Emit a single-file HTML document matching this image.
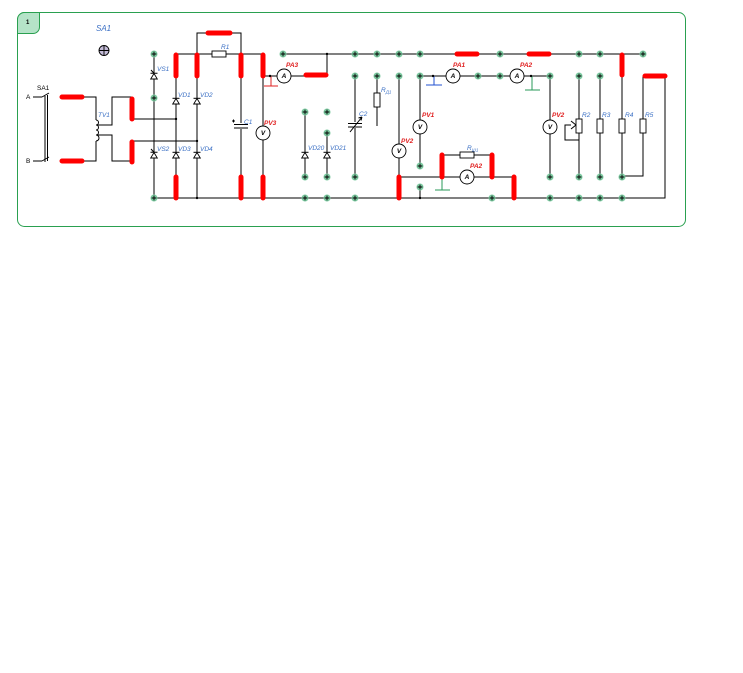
<!DOCTYPE html>
<html><head><meta charset="utf-8"><style>
html,body{margin:0;padding:0;background:#fff;width:743px;height:673px;overflow:hidden}
svg{display:block}
text{font-family:"Liberation Sans",sans-serif;font-style:italic;font-size:6.5px}
.b{fill:#3a6fc4}.r{fill:#e02020;font-weight:bold}.k{fill:#000}
</style></head><body>
<svg width="743" height="673" viewBox="0 0 743 673" xmlns="http://www.w3.org/2000/svg">
<defs>
<symbol id="n" viewBox="-4 -4 8 8" overflow="visible"><circle r="3.5" fill="#7cc9a0"/><path d="M-2.4 0H2.4M0 -2.4V2.4" stroke="#000" stroke-width="0.9"/></symbol>
<symbol id="d" overflow="visible"><polygon points="-3.3,3 3.3,3 0,-2.5" fill="#fff" stroke="#000" stroke-width="0.9"/><path d="M-3.5 -2.7H3.5" stroke="#000" stroke-width="1"/></symbol>
<symbol id="t" overflow="visible"><polygon points="-3.3,3 3.3,3 0,-2.5" fill="#fff" stroke="#000" stroke-width="0.9"/><path d="M-3.5 -2.7H3.5M0 -2.7L-3 -6" stroke="#000" stroke-width="1"/></symbol>
</defs>
<rect x="17.5" y="12.5" width="668" height="214" rx="7" fill="#fff" stroke="#2aa050" stroke-width="1"/>
<path d="M17.5 33.5V19.5a7 7 0 0 1 7-7H39.5V27a6.5 6.5 0 0 1-6.5 6.5Z" fill="#b5e3c8" stroke="#2aa050" stroke-width="1"/>
<text x="26" y="24" class="k" style="font-size:6px;font-style:normal;font-weight:bold">1</text>
<text x="96" y="31" class="b" style="font-size:8px">SA1</text>
<circle cx="104" cy="50.5" r="5" fill="#c4bcd8" stroke="#000" stroke-width="0.9"/><path d="M99 50.5H109M104 45.5V55.5" stroke="#000" stroke-width="0.9"/>

<g stroke="#000" stroke-width="1" fill="none">
<path d="M33 97H42M33 161H42M42 97L49 93M42 161L49 157M45 96V162M47.5 95V161"/>
<path d="M83 97H96V120M96 141V161H83"/>
<path d="M96 120a2.5 2.5 0 0 1 0 5a2.5 2.5 0 0 1 0 5a2.5 2.5 0 0 1 0 5a2.5 2.5 0 0 1 0 6"/>
<path d="M97 125H112V97H132M97 135H112V161H132"/>
<path d="M132 119H176M132 141H197"/>
<path d="M154 54V198M176 54V198M197 54V198M176 54H263M197 54V33H241V54M241 54V198M263 54V198"/>
<path d="M154 198H665V76"/>
<path d="M263 76H277M290 76H327M271 76V86M264 86H278"/>
<path d="M283 54H643"/>
<path d="M327 54V76M327 133V177M305 112V177M355 76V177M377 76V126M399 76V175M420 76V166M420 76H446M459 76H500M434 76V85M426 85H442"/>
<path d="M399 177H442M442 155H492M442 177H460M474 177H492M492 177H514M442 178V190M435 190H450M420 187V198"/>
<path d="M500 76H511M524 76H550M532 76V90M525 90H540M550 76V177"/>
<path d="M579 76V177M600 76V177M622 76V177M643 76V176H622"/>
<path d="M571 125H565V140H579M571 121L576 125L571 129"/>
</g>
<path d="M271 76V86M264 86H278" stroke="#e02020" stroke-width="1"/>
<path d="M434 76V85M426 85H442" stroke="#2050d0" stroke-width="1"/>
<path d="M442 178V190M435 190H450M532 76V90M525 90H540" stroke="#2a9a5a" stroke-width="1"/>
<g fill="#fff" stroke="#000" stroke-width="0.9">
<rect x="212" y="51" width="14" height="6"/>
<rect x="374" y="93" width="6" height="14"/>
<rect x="460" y="152" width="14" height="6"/>
<rect x="576" y="119" width="6" height="14"/>
<rect x="597" y="119" width="6" height="14"/>
<rect x="619" y="119" width="6" height="14"/>
<rect x="640" y="119" width="6" height="14"/>
<circle cx="263" cy="133" r="7"/><circle cx="284" cy="76" r="7"/><circle cx="453" cy="76" r="7"/>
<circle cx="517" cy="76" r="7"/><circle cx="420" cy="127" r="7"/><circle cx="399" cy="151" r="7"/>
<circle cx="467" cy="177" r="7"/><circle cx="550" cy="127" r="7"/>
</g>
<g style="font-size:6px;font-weight:bold;font-style:italic" text-anchor="middle" fill="#000">
<text x="263" y="135">V</text><text x="284" y="78">A</text><text x="453" y="78">A</text><text x="517" y="78">A</text>
<text x="420" y="129">V</text><text x="399" y="153">V</text><text x="467" y="179">A</text><text x="550" y="129">V</text>
</g>
<rect x="234" y="123" width="14" height="6" fill="#fff"/>
<path d="M234 124.5H248M234 128H248M232 121H235M233.5 119.5V122.5" stroke="#000" stroke-width="1"/>
<rect x="348" y="122" width="14" height="6" fill="#fff"/>
<path d="M348 123.5H362M348 127H362M350 132L362 117M362 117l-3.5 1M362 117l-1 3.5" stroke="#000" stroke-width="1"/>
<use href="#t" x="154" y="76"/><use href="#t" x="154" y="155"/>
<use href="#d" x="176" y="101"/><use href="#d" x="197" y="101"/>
<use href="#d" x="176" y="155"/><use href="#d" x="197" y="155"/>
<use href="#d" x="305" y="155"/><use href="#d" x="327" y="155"/>
<g stroke="#ff0000" stroke-width="5" stroke-linecap="round">
<path d="M62 97H82M62 161H82M132 99V119M132 142V162"/>
<path d="M176 55V76M197 55V76M241 55V76M263 55V76M208 33H230"/>
<path d="M176 177V198M241 177V198M263 177V198"/>
<path d="M306 75H326M457 54H477M529 54H549M622 55V75M645 76H665"/>
<path d="M399 177V198M442 155V177M492 155V177M514 177V198"/>
</g>
<g fill="#000"><circle cx="176" cy="119" r="1.2"/><circle cx="197" cy="141" r="1.2"/><circle cx="197" cy="198" r="1.2"/><circle cx="327" cy="54" r="1.2"/><circle cx="433" cy="76" r="1.2"/><circle cx="420" cy="198" r="1.2"/><circle cx="531" cy="76" r="1.2"/><circle cx="270" cy="76" r="1.2"/></g>
<g>
<use href="#n" x="150" y="50" width="8" height="8"/><use href="#n" x="150" y="94" width="8" height="8"/><use href="#n" x="150" y="194" width="8" height="8"/>
<use href="#n" x="279" y="50" width="8" height="8"/><use href="#n" x="351" y="50" width="8" height="8"/><use href="#n" x="373" y="50" width="8" height="8"/><use href="#n" x="395" y="50" width="8" height="8"/><use href="#n" x="416" y="50" width="8" height="8"/><use href="#n" x="496" y="50" width="8" height="8"/><use href="#n" x="575" y="50" width="8" height="8"/><use href="#n" x="596" y="50" width="8" height="8"/><use href="#n" x="639" y="50" width="8" height="8"/>
<use href="#n" x="351" y="72" width="8" height="8"/><use href="#n" x="373" y="72" width="8" height="8"/><use href="#n" x="395" y="72" width="8" height="8"/><use href="#n" x="416" y="72" width="8" height="8"/><use href="#n" x="474" y="72" width="8" height="8"/><use href="#n" x="496" y="72" width="8" height="8"/><use href="#n" x="546" y="72" width="8" height="8"/><use href="#n" x="575" y="72" width="8" height="8"/><use href="#n" x="596" y="72" width="8" height="8"/>
<use href="#n" x="301" y="108" width="8" height="8"/><use href="#n" x="323" y="108" width="8" height="8"/><use href="#n" x="323" y="129" width="8" height="8"/><use href="#n" x="416" y="162" width="8" height="8"/><use href="#n" x="416" y="183" width="8" height="8"/>
<use href="#n" x="301" y="173" width="8" height="8"/><use href="#n" x="323" y="173" width="8" height="8"/><use href="#n" x="351" y="173" width="8" height="8"/><use href="#n" x="546" y="173" width="8" height="8"/><use href="#n" x="575" y="173" width="8" height="8"/><use href="#n" x="596" y="173" width="8" height="8"/><use href="#n" x="618" y="173" width="8" height="8"/>
<use href="#n" x="301" y="194" width="8" height="8"/><use href="#n" x="323" y="194" width="8" height="8"/><use href="#n" x="351" y="194" width="8" height="8"/><use href="#n" x="488" y="194" width="8" height="8"/><use href="#n" x="546" y="194" width="8" height="8"/><use href="#n" x="575" y="194" width="8" height="8"/><use href="#n" x="596" y="194" width="8" height="8"/><use href="#n" x="618" y="194" width="8" height="8"/>
</g>
<text x="26" y="99" class="k" style="font-style:normal">A</text><text x="26" y="163" class="k" style="font-style:normal">B</text>
<text x="37" y="90" class="k" style="font-style:normal">SA1</text>
<text x="98" y="117" class="b">TV1</text>
<text x="157" y="71" class="b">VS1</text><text x="178" y="97" class="b">VD1</text><text x="200" y="97" class="b">VD2</text>
<text x="157" y="151" class="b">VS2</text><text x="178" y="151" class="b">VD3</text><text x="200" y="151" class="b">VD4</text>
<text x="221" y="49" class="b">R1</text><text x="244" y="124" class="b">C1</text>
<text x="264" y="125" class="r">PV3</text><text x="286" y="67" class="r">PA3</text>
<text x="308" y="150" class="b">VD20</text><text x="330" y="150" class="b">VD21</text>
<text x="359" y="116" class="b">C2</text>
<text x="381" y="92" class="b">R<tspan style="font-size:4.5px" dy="1.5">Д1</tspan></text>
<text x="453" y="67" class="r">PA1</text><text x="520" y="67" class="r">PA2</text>
<text x="422" y="117" class="r">PV1</text><text x="401" y="143" class="r">PV2</text>
<text x="467" y="150" class="b">R<tspan style="font-size:4.5px" dy="1.5">Ш1</tspan></text>
<text x="470" y="168" class="r">PA2</text>
<text x="552" y="117" class="r">PV2</text>
<text x="582" y="117" class="b">R2</text><text x="602" y="117" class="b">R3</text><text x="625" y="117" class="b">R4</text><text x="645" y="117" class="b">R5</text>
</svg>
</body></html>
